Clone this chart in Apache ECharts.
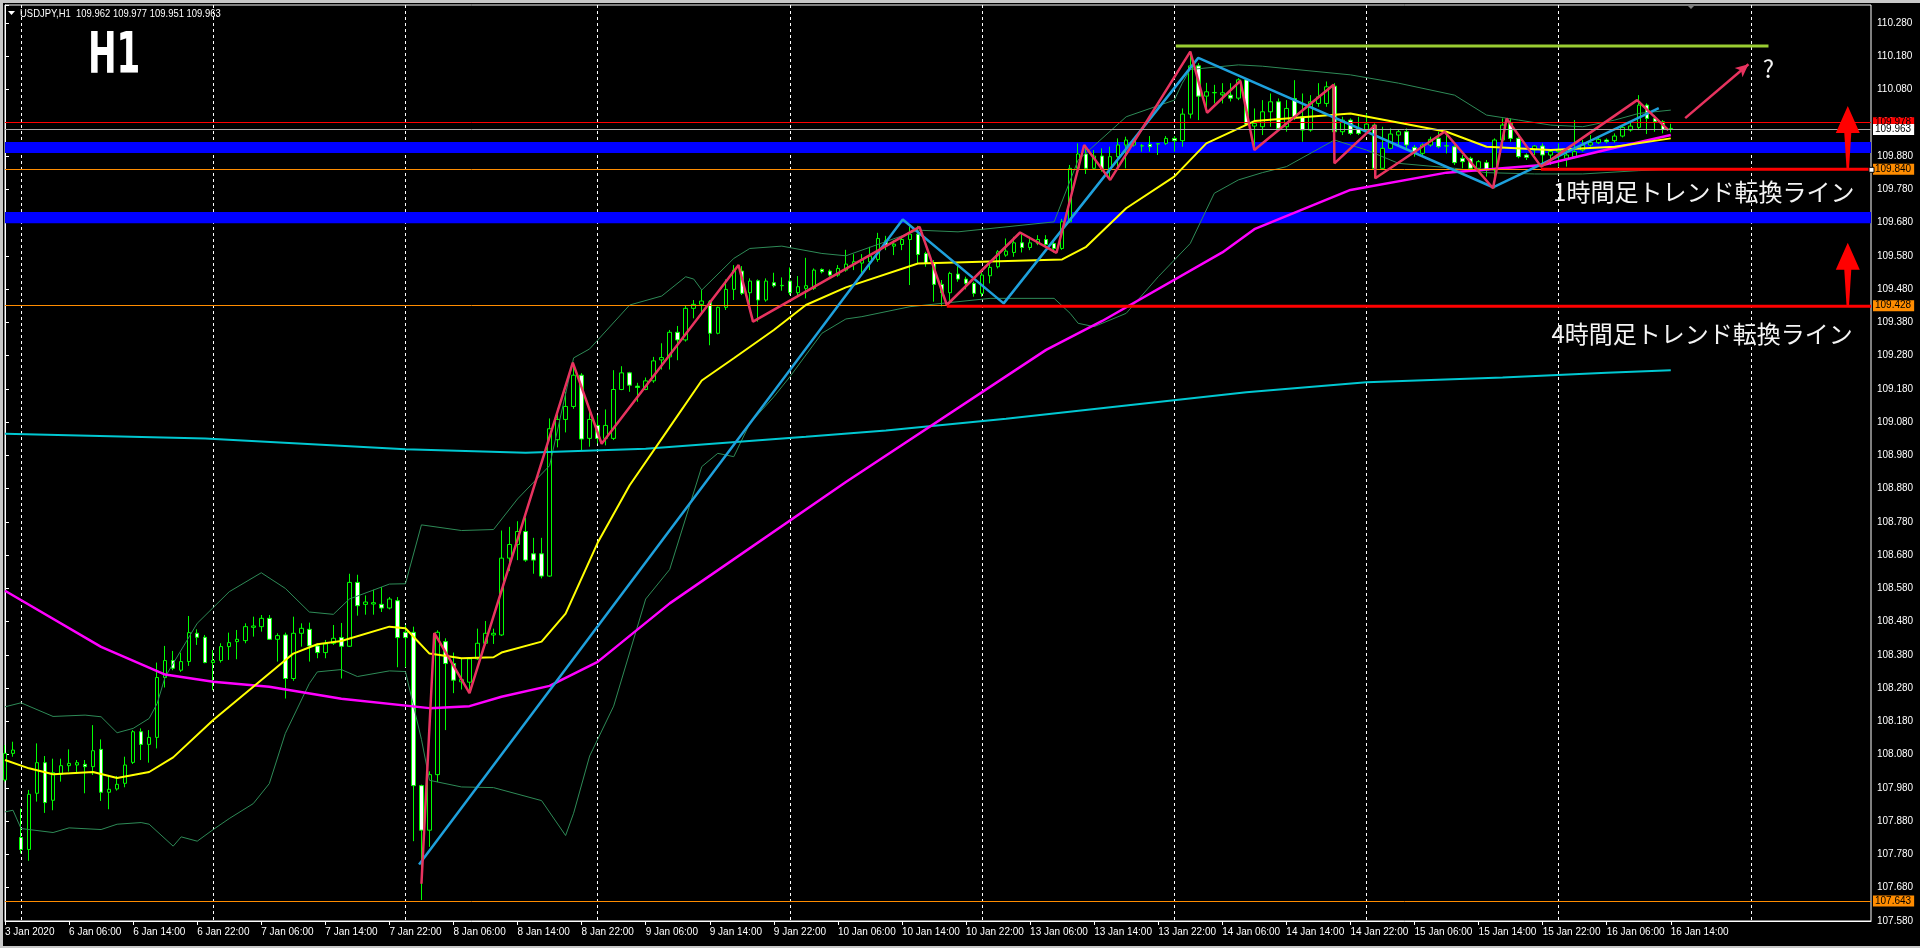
<!DOCTYPE html>
<html><head><meta charset="utf-8">
<script src="https://cdn.jsdelivr.net/npm/echarts@6/dist/echarts.min.js"></script>
<style>html,body{margin:0;padding:0;background:#000;overflow:hidden}#c{width:1920px;height:948px}</style>
</head><body><div id="c"></div>
<script>
// ---- OHLC (USDJPY H1, bar 0 = 3 Jan 22:00, bar 208 = 16 Jan 14:00) ----
const opens=[108.004,108.084,107.831,107.795,107.964,108.056,107.943,108.021,108.047,108.049,
108.051,108.044,108.096,107.967,107.977,107.994,108.057,108.149,108.111,108.132,
108.312,108.363,108.334,108.360,108.445,108.433,108.357,108.363,108.405,108.420,
108.423,108.463,108.465,108.490,108.427,108.440,108.309,108.445,108.457,108.407,
108.387,108.415,108.432,108.406,108.598,108.532,108.533,108.532,108.521,108.543,
108.448,108.448,107.987,107.853,108.020,108.420,108.354,108.299,108.298,108.368,
108.415,108.440,108.440,108.671,108.712,108.751,108.684,108.684,108.617,109.027,
109.088,109.127,109.221,109.031,109.070,109.031,109.031,109.178,109.228,109.188,
109.178,109.204,109.267,109.276,109.350,109.327,109.422,109.434,109.442,109.347,
109.425,109.479,109.534,109.469,109.505,109.447,109.499,109.490,109.504,109.469,
109.482,109.482,109.539,109.534,109.522,109.537,109.555,109.558,109.562,109.569,
109.625,109.609,109.614,109.629,109.645,109.587,109.557,109.494,109.469,109.525,
109.510,109.497,109.467,109.520,109.547,109.582,109.590,109.619,109.605,109.617,
109.629,109.617,109.602,109.682,109.843,109.886,109.843,109.880,109.840,109.878,
109.913,109.913,109.910,109.915,109.916,109.918,109.933,109.926,110.006,110.151,
110.060,110.070,110.064,110.063,110.054,110.109,109.970,109.968,110.013,110.043,
109.968,110.053,109.998,109.958,110.038,110.038,110.090,109.953,109.988,109.963,
109.958,109.973,109.843,109.903,109.943,109.953,109.906,109.888,109.913,109.933,
109.910,109.908,109.873,109.873,109.843,109.860,109.838,109.928,109.978,109.933,
109.883,109.898,109.910,109.883,109.893,109.873,109.878,109.898,109.913,109.920,
109.928,109.926,109.940,109.958,109.966,110.033,109.993,109.983,109.962];
const highs=[108.109,108.119,107.918,107.974,108.114,108.076,108.068,108.068,108.096,108.064,
108.064,108.169,108.126,108.016,108.016,108.074,108.154,108.159,108.154,108.357,
108.407,108.392,108.387,108.497,108.457,108.440,108.395,108.415,108.447,108.455,
108.475,108.495,108.500,108.500,108.445,108.447,108.495,108.475,108.477,108.415,
108.425,108.470,108.476,108.624,108.621,108.559,108.576,108.584,108.554,108.554,
108.470,108.465,107.990,108.030,108.454,108.430,108.387,108.370,108.370,108.459,
108.482,108.459,108.754,108.765,108.782,108.793,108.732,108.732,109.091,109.120,
109.171,109.259,109.227,109.116,109.100,109.118,109.236,109.248,109.231,109.198,
109.214,109.276,109.317,109.357,109.369,109.432,109.447,109.477,109.447,109.427,
109.509,109.552,109.549,109.512,109.509,109.512,109.529,109.515,109.545,109.519,
109.574,109.542,109.542,109.539,109.552,109.598,109.585,109.585,109.607,109.649,
109.640,109.627,109.640,109.668,109.670,109.592,109.567,109.507,109.532,109.549,
109.517,109.502,109.532,109.557,109.597,109.632,109.637,109.650,109.637,109.642,
109.642,109.625,109.691,109.853,109.918,109.913,109.898,109.903,109.908,109.933,
109.938,109.933,109.916,109.940,109.918,109.940,109.940,110.023,110.194,110.159,
110.100,110.094,110.099,110.099,110.114,110.114,110.023,110.048,110.068,110.053,
110.048,110.108,110.068,110.063,110.099,110.104,110.099,109.998,109.993,109.998,
110.008,109.978,109.968,109.963,109.960,109.963,109.913,109.918,109.938,109.953,
109.948,109.913,109.883,109.878,109.868,109.868,109.933,109.993,109.993,109.938,
109.888,109.913,109.918,109.898,109.918,109.903,109.988,109.928,109.943,109.936,
109.933,109.948,109.973,109.983,110.063,110.038,110.003,109.988,109.977];
const lows=[107.999,108.074,107.783,107.761,107.939,107.905,107.913,107.999,108.029,108.024,
107.964,108.019,107.941,107.916,107.972,107.982,108.052,108.064,108.056,108.099,
108.282,108.334,108.329,108.347,108.410,108.355,108.274,108.357,108.365,108.367,
108.415,108.435,108.450,108.425,108.360,108.249,108.302,108.405,108.360,108.370,
108.370,108.410,108.309,108.404,108.498,108.501,108.501,108.509,108.517,108.343,
108.343,107.820,107.643,107.803,107.998,108.154,108.265,108.276,108.265,108.365,
108.409,108.413,108.437,108.632,108.665,108.660,108.624,108.610,108.615,109.004,
109.049,109.120,108.993,109.006,109.016,109.010,109.026,109.176,109.171,109.141,
109.176,109.198,109.238,109.238,109.266,109.322,109.392,109.409,109.311,109.344,
109.417,109.447,109.462,109.432,109.382,109.442,109.485,109.475,109.462,109.462,
109.452,109.477,109.527,109.517,109.517,109.532,109.537,109.529,109.537,109.562,
109.597,109.582,109.597,109.492,109.557,109.547,109.442,109.428,109.440,109.502,
109.479,109.457,109.457,109.497,109.542,109.577,109.577,109.590,109.597,109.612,
109.607,109.589,109.598,109.679,109.838,109.826,109.840,109.833,109.808,109.843,
109.843,109.908,109.893,109.893,109.883,109.913,109.893,109.908,109.993,109.988,
110.010,110.038,110.038,110.044,110.048,109.973,109.898,109.943,109.968,109.958,
109.953,109.988,109.923,109.953,110.028,110.028,109.858,109.943,109.943,109.943,
109.948,109.813,109.838,109.900,109.908,109.898,109.878,109.883,109.908,109.903,
109.888,109.853,109.843,109.838,109.833,109.818,109.783,109.903,109.923,109.873,
109.868,109.883,109.848,109.853,109.848,109.848,109.873,109.893,109.908,109.916,
109.918,109.920,109.936,109.953,109.958,109.946,109.953,109.948,109.951];
const closes=[108.084,108.094,107.795,107.961,108.056,107.936,108.026,108.047,108.054,108.056,
108.044,108.092,107.967,107.976,107.991,108.049,108.149,108.111,108.132,108.312,
108.363,108.340,108.360,108.447,108.433,108.357,108.363,108.405,108.417,108.427,
108.465,108.467,108.490,108.427,108.438,108.309,108.445,108.460,108.407,108.387,
108.413,108.430,108.406,108.598,108.528,108.539,108.537,108.521,108.548,108.432,
108.432,107.987,107.853,108.020,108.448,108.354,108.304,108.306,108.368,108.415,
108.445,108.445,108.671,108.712,108.751,108.665,108.665,108.617,109.060,109.088,
109.127,109.221,109.029,109.088,109.031,109.070,109.178,109.228,109.191,109.184,
109.204,109.264,109.274,109.350,109.327,109.422,109.434,109.444,109.347,109.425,
109.479,109.537,109.467,109.504,109.447,109.504,109.490,109.491,109.469,109.487,
109.490,109.537,109.532,109.522,109.542,109.555,109.562,109.569,109.579,109.632,
109.610,109.615,109.629,109.645,109.584,109.557,109.494,109.469,109.527,109.510,
109.497,109.467,109.522,109.545,109.592,109.594,109.619,109.605,109.619,109.629,
109.614,109.602,109.682,109.843,109.886,109.843,109.880,109.840,109.878,109.913,
109.928,109.930,109.911,109.908,109.917,109.933,109.926,110.006,110.151,110.060,
110.073,110.071,110.070,110.054,110.109,109.976,109.978,110.013,110.043,109.963,
110.023,109.998,109.958,110.043,110.058,110.088,109.953,109.988,109.948,109.948,
109.976,109.843,109.903,109.946,109.953,109.913,109.888,109.913,109.930,109.908,
109.911,109.860,109.863,109.843,109.863,109.838,109.928,109.973,109.933,109.878,
109.876,109.910,109.883,109.893,109.898,109.883,109.893,109.913,109.920,109.930,
109.923,109.940,109.966,109.970,110.033,109.993,109.983,109.960,109.963];

// time-axis tick labels, one every 8 bars starting at bar 0
const tickLabels=['3 Jan 2020','6 Jan 06:00','6 Jan 14:00','6 Jan 22:00','7 Jan 06:00','7 Jan 14:00','7 Jan 22:00',
'8 Jan 06:00','8 Jan 14:00','8 Jan 22:00','9 Jan 06:00','9 Jan 14:00','9 Jan 22:00','10 Jan 06:00','10 Jan 14:00',
'10 Jan 22:00','13 Jan 06:00','13 Jan 14:00','13 Jan 22:00','14 Jan 06:00','14 Jan 14:00','14 Jan 22:00',
'15 Jan 06:00','15 Jan 14:00','15 Jan 22:00','16 Jan 06:00','16 Jan 14:00'];
const daySeparators=[2,26,50,74,98,122,146,170,194,218];

// indicators, read as [bar, price]
const yellowMA=[[0,108.064],[3,108.039],[6,108.021],[11,108.028],[14,108.010],[18,108.028],[21,108.072],[26,108.184],[31,108.284],[36,108.384],[39,108.412],[42,108.422],[48,108.465],[50,108.460],[53,108.384],[57,108.370],[61,108.373],[62,108.387],[67,108.420],[70,108.504],[74,108.717],[78,108.890],[83,109.065],[87,109.205],[91,109.272],[96,109.357],[100,109.432],[105,109.485],[114,109.557],[132,109.569],[135,109.607],[140,109.723],[146,109.818],[150,109.918],[156,109.985],[168,110.008],[180,109.953],[185,109.908],[193,109.898],[201,109.908],[208,109.933]];
const bbUpper=[[0,108.224],[2,108.236],[6,108.195],[10,108.199],[12,108.194],[14,108.146],[16,108.159],[18,108.189],[19,108.234],[20,108.314],[24,108.475],[28,108.570],[32,108.627],[35,108.580],[38,108.509],[41,108.502],[43,108.548],[48,108.593],[50,108.594],[52,108.771],[57,108.754],[61,108.757],[64,108.849],[68,108.949],[71,109.273],[73,109.300],[78,109.432],[82,109.459],[85,109.517],[86,109.510],[87,109.477],[91,109.572],[93,109.602],[97,109.609],[102,109.587],[105,109.580],[114,109.657],[119,109.652],[131,109.682],[134,109.868],[140,109.998],[146,110.048],[147,110.099],[148,110.140],[154,110.154],[157,110.150],[168,110.124],[174,110.099],[181,110.063],[185,110.003],[189,109.988],[193,109.973],[197,109.968],[201,109.988],[204,110.008],[208,110.018]];
const bbLower=[[0,107.908],[1,107.913],[2,107.858],[6,107.846],[8,107.860],[12,107.855],[14,107.871],[17,107.876],[18,107.871],[21,107.805],[22,107.833],[24,107.820],[26,107.855],[28,107.888],[31,107.933],[33,107.993],[35,108.144],[38,108.294],[39,108.329],[42,108.336],[44,108.315],[48,108.332],[50,108.330],[52,108.126],[53,108.003],[57,107.983],[61,107.981],[67,107.942],[70,107.837],[71,107.904],[73,108.076],[76,108.226],[80,108.548],[83,108.637],[87,108.946],[89,108.986],[91,108.976],[93,109.076],[96,109.156],[98,109.216],[102,109.347],[105,109.390],[107,109.397],[113,109.427],[123,109.452],[131,109.452],[133,109.407],[134,109.377],[136,109.367],[140,109.407],[144,109.517],[148,109.617],[151,109.768],[154,109.808],[157,109.830],[160,109.848],[166,109.928],[170,109.898],[174,109.858],[181,109.843],[185,109.830],[191,109.826],[197,109.826],[204,109.836],[208,109.840]];
const magentaMA=[[0,108.573],[12,108.404],[20,108.321],[26,108.299],[33,108.284],[42,108.248],[53,108.220],[58,108.226],[62,108.254],[68,108.287],[74,108.359],[83,108.535],[105,108.900],[130,109.297],[137,109.384],[152,109.590],[156,109.660],[168,109.778],[180,109.830],[192,109.853],[201,109.905],[208,109.943]];
const cyanMA=[[0,109.045],[25,109.031],[50,108.998],[65,108.988],[80,109.000],[100,109.036],[110,109.055],[125,109.090],[140,109.130],[155,109.170],[170,109.200],[187,109.214],[200,109.228],[208,109.236]];

// drawn objects
const pinkZigzag=[[52.0,107.692],[53.6,108.446],[58.0,108.265],[70.9,109.259],[74.5,109.015],[91.6,109.552],[93.4,109.382],[114.2,109.667],[117.6,109.432],[126.75,109.650],[131.3,109.589],[134.75,109.913],[138.0,109.808],[148.0,110.194],[150.1,110.010],[154.25,110.106],[156.0,109.898],[165.9,110.094],[166.0,109.858],[171.1,109.973],[171.1,109.813],[179.75,109.953],[185.8,109.783],[187.5,109.993],[191.8,109.848],[203.8,110.048],[207.7,109.958]];
const blueLines=[[51.7,107.750],[112.1,109.689],[124.7,109.437],[149.0,110.175],[185.8,109.786],[206.5,110.024]];
const greenLevel=[[146.2,110.211],[220.2,110.211]];
const line4H=[[117.6,109.428],[233,109.428]];
const line1H=[[191.8,109.840],[233,109.840]];
const pinkArrow=[[209.8,109.994],[217.7,110.156]];
const bandsBlue=[[109.889,109.922],[109.678,109.712]];
const hLines=[{v:109.978,c:'#ff0000'},{v:109.840,c:'#ff8c00'},{v:109.428,c:'#ff8c00'},{v:107.643,c:'#ff8c00'}];
const bidPrice=109.963;
const redArrows=[{i:230.1,base:109.840,tip:110.030},{i:230.1,base:109.428,tip:109.619}];
const notes=[{t:'1時間足トレンド転換ライン',i:193.3,p:109.773},{t:'4時間足トレンド転換ライン',i:193.1,p:109.344}];
const questionMark={t:'?',i:220.2,p:110.142};

const N_SLOTS=234;
const Y_MIN=107.58, Y_MAX=110.334, Y_STEP=0.1;
const F="'Liberation Sans',sans-serif";
const FS=10;

const categories=Array.from({length:N_SLOTS},(_,i)=>String(i));
const candles=opens.map((o,i)=>[o,closes[i],lows[i],highs[i]]);
const isTick=(idx)=>idx%8===0 && idx/8<tickLabels.length;

const chart=echarts.init(document.getElementById('c'),null,{renderer:'canvas',width:1920,height:948});

function lineSeries(name,data,color,width,z){
  return {name,type:'line',xAxisIndex:1,yAxisIndex:0,data,showSymbol:false,symbol:'none',silent:true,
    lineStyle:{color,width},z,animation:false,clip:true};
}

const option={
  backgroundColor:'#000',
  animation:false,
  grid:{left:5,right:49,top:5,bottom:27,show:true,borderColor:'#ffffff',borderWidth:1,backgroundColor:'#000'},
  xAxis:[
    {type:'category',data:categories,boundaryGap:false,position:'bottom',
     axisLine:{show:true,lineStyle:{color:'#ffffff',width:1}},
     axisTick:{show:true,length:4,interval:(idx)=>isTick(idx),lineStyle:{color:'#ffffff'}},
     axisLabel:{show:true,interval:(idx)=>isTick(idx),formatter:(v,idx)=>isTick(idx)?tickLabels[idx/8]:'',
       align:'left',color:'#ffffff',fontSize:FS,fontFamily:F,margin:6},
     splitLine:{show:true,interval:(idx)=>daySeparators.indexOf(idx)>=0,lineStyle:{color:'#ffffff',width:1,type:[3,3]}}},
    {type:'value',min:0,max:N_SLOTS-1,show:false,gridIndex:0}
  ],
  yAxis:[{type:'value',position:'right',min:Y_MIN,max:Y_MAX,interval:Y_STEP,scale:true,
    axisLine:{show:true,lineStyle:{color:'#ffffff',width:1}},
    axisTick:{show:true,length:4,lineStyle:{color:'#ffffff'}},
    axisLabel:{color:'#ffffff',fontSize:FS,fontFamily:F,margin:6,
      formatter:(v)=>{const k=(v-Y_MIN)/Y_STEP;return Math.abs(k-Math.round(k))<1e-6?v.toFixed(3):'';}},
    splitLine:{show:false}}],
  series:[
    {name:'USDJPY,H1',type:'candlestick',xAxisIndex:0,yAxisIndex:0,data:candles,barWidth:4,z:3,silent:true,
     itemStyle:{color:'#000000',color0:'#ffffff',borderColor:'#00ff00',borderColor0:'#00ff00',borderWidth:1},
     markArea:{silent:true,z:1,itemStyle:{color:'#0000ff',opacity:1},
       data:bandsBlue.map(b=>[{yAxis:b[0]},{yAxis:b[1]}])},
     markLine:{silent:true,symbol:['none','none'],z:5,animation:false,
       data:hLines.map(h=>({yAxis:h.v,lineStyle:{color:h.c,width:1,type:'solid'},
         label:{show:true,position:'end',distance:2,formatter:h.v.toFixed(3),backgroundColor:h.c,color:'#000',
           fontSize:FS,fontFamily:F,padding:[1,3,0,2]}}))}},
    lineSeries('bbUpper',bbUpper,'#2e8b57',1,4),
    lineSeries('bbLower',bbLower,'#2e8b57',1,4),
    lineSeries('cyanMA',cyanMA,'#00c8d2',2,4),
    lineSeries('magentaMA',magentaMA,'#ff00ff',2.5,4),
    lineSeries('yellowMA',yellowMA,'#ffff00',2,5),
    lineSeries('blueLines',blueLines,'#1ea0dc',2.5,6),
    lineSeries('pinkZigzag',pinkZigzag,'#e8335f',2.5,7),
    Object.assign(lineSeries('greenLevel',greenLevel,'#9acd32',3,6),{
      markLine:{silent:true,symbol:['none','arrow'],symbolSize:[9,13],z:7,animation:false,
        data:[[{coord:pinkArrow[0],lineStyle:{color:'#e8335f',width:2.5,type:'solid'},label:{show:false}},{coord:pinkArrow[1]}]]}}),
    lineSeries('line4H',line4H,'#ff0000',3,7),
    lineSeries('line1H',line1H,'#ff0000',3,7),
    {name:'bid',type:'line',xAxisIndex:0,yAxisIndex:0,data:[],z:8,silent:true,
     markLine:{silent:true,symbol:['none','none'],z:8,animation:false,
       data:[{yAxis:bidPrice,lineStyle:{color:'#a8a8a8',width:1,type:'solid'},
         label:{show:true,position:'end',distance:2,formatter:bidPrice.toFixed(3),backgroundColor:'#ffffff',color:'#000',
           fontSize:FS,fontFamily:F,padding:[1,3,0,2]}}]}}
  ]
};
chart.setOption(option);

function px(i,p){return chart.convertToPixel({xAxisIndex:1,yAxisIndex:0},[i,p]);}
const g=[];
// window border strips
g.push({type:'rect',shape:{x:0,y:0,width:1920,height:3},style:{fill:'#c8c8c8'},silent:true,z:100});
g.push({type:'rect',shape:{x:0,y:0,width:3,height:948},style:{fill:'#c8c8c8'},silent:true,z:100});
g.push({type:'rect',shape:{x:0,y:946,width:1920,height:2},style:{fill:'#c8c8c8'},silent:true,z:100});
// header
g.push({type:'polygon',shape:{points:[[8,11],[15,11],[11.5,15]]},style:{fill:'#ffffff'},silent:true,z:100});
g.push({type:'text',x:20,y:14,scaleX:0.86,silent:true,z:100,style:{text:'USDJPY,H1  109.962 109.977 109.951 109.963',fill:'#ffffff',font:'11px '+F,verticalAlign:'middle'}});
g.push({type:'text',x:88,y:58,scaleX:0.6,silent:true,z:100,style:{text:'H1',fill:'#ffffff',font:'bold 57px "DejaVu Sans"',verticalAlign:'middle'}});
// shift marker
g.push({type:'polygon',shape:{points:[[1686,4],[1696,4],[1691,9]]},style:{fill:'#808080'},silent:true,z:100});
// notes
notes.forEach(n=>{const q=px(n.i,n.p);g.push({type:'text',x:q[0],y:q[1],silent:true,z:100,
  style:{text:n.t,fill:'#f4f4f4',font:'24px "Noto Sans CJK JP"',verticalAlign:'middle'}});});
{const q=px(questionMark.i,questionMark.p);g.push({type:'text',x:q[0],y:q[1],silent:true,z:100,
  style:{text:questionMark.t,fill:'#f4f4f4',font:'24px "Noto Sans CJK JP"',align:'center',verticalAlign:'middle'}});}
// red up arrows
redArrows.forEach(a=>{const t=px(a.i,a.tip),b=px(a.i,a.base);const x=t[0],yt=t[1],yb=b[1],yh=yt+27;
  g.push({type:'polygon',silent:true,z:100,shape:{points:[[x,yt],[x+12,yh],[x+3.5,yh],[x+1.2,yb],[x-1.2,yb],[x-3.5,yh],[x-12,yh]]},style:{fill:'#ff0000'}});});
// handle at end of 1H line
{const q=px(N_SLOTS-1,line1H[1][1]);g.push({type:'rect',silent:true,z:100,shape:{x:q[0]-2,y:q[1]-2,width:5,height:5},style:{fill:'#ffffff',stroke:'#000',lineWidth:1}});}
chart.setOption({graphic:g});
</script></body></html>
